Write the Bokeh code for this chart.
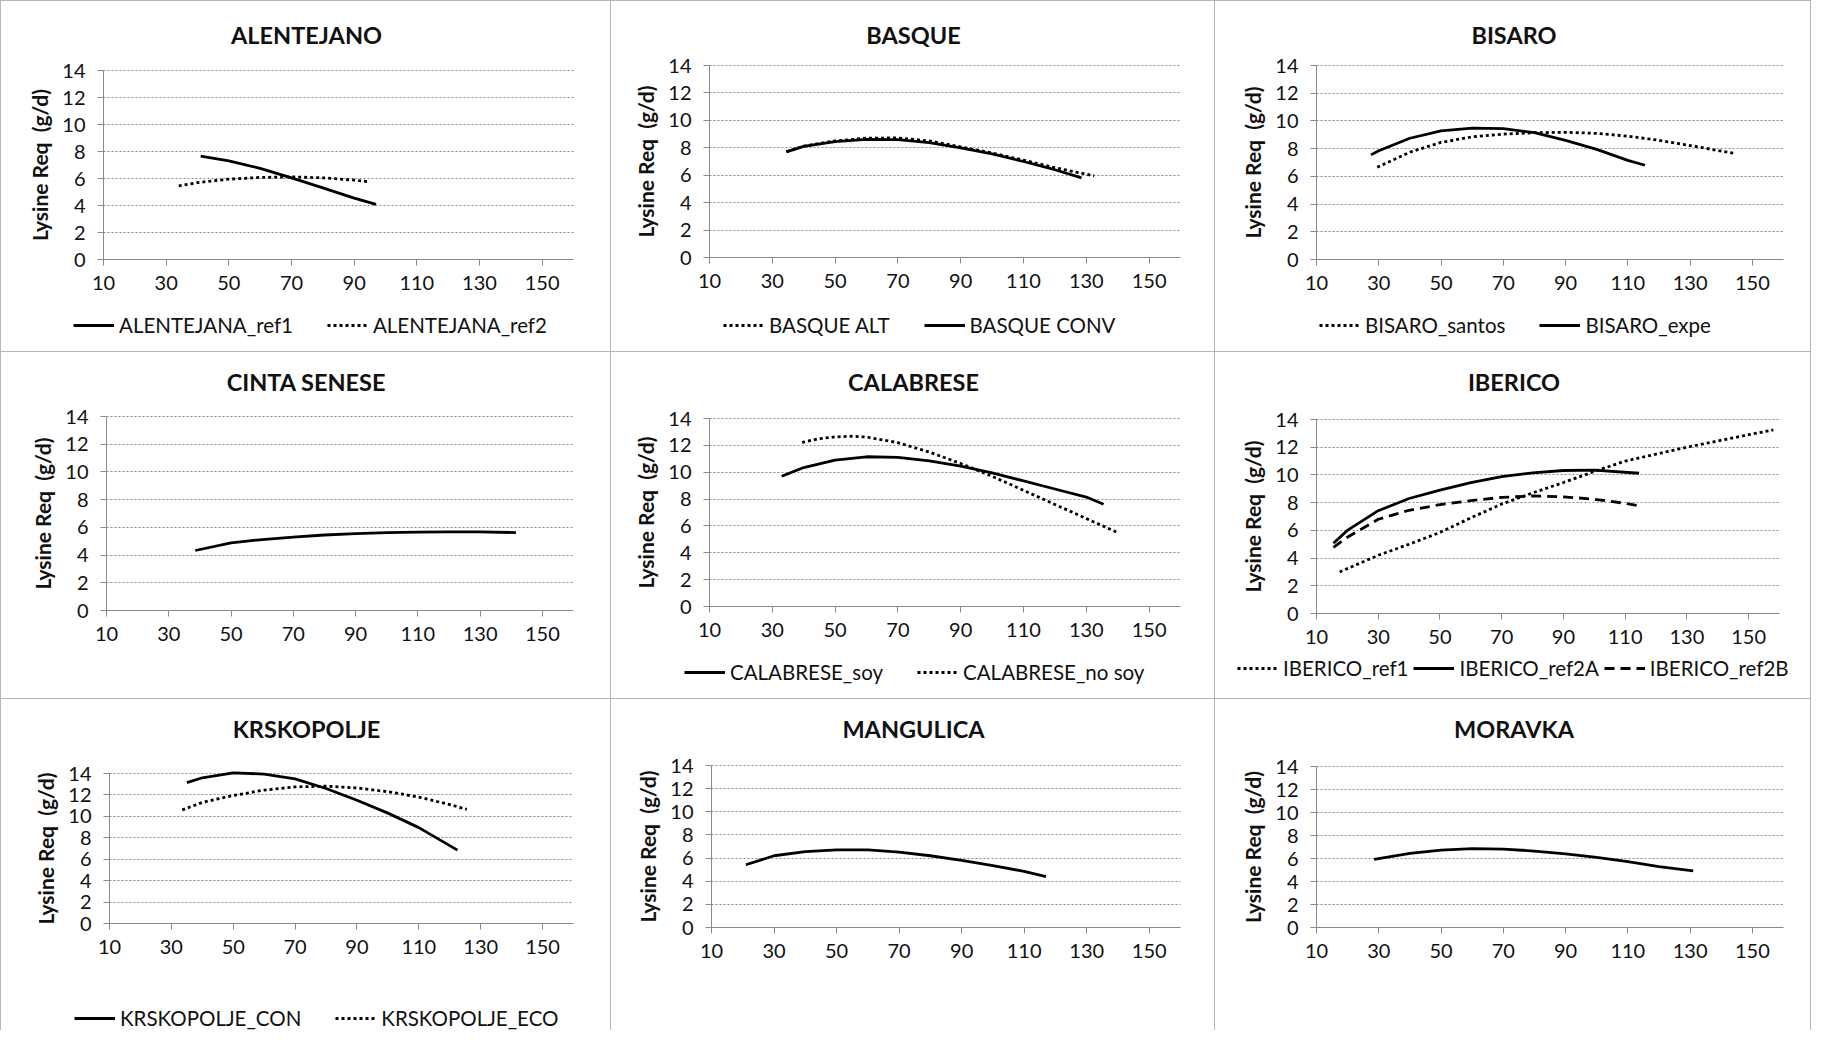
from bokeh.plotting import figure
from bokeh.models import Range1d, FixedTicker, Legend, LegendItem, Label
from bokeh.layouts import column, row
from bokeh.embed import file_html
from bokeh.resources import INLINE

# ---------------- data ----------------
X_TICKS = [10, 30, 50, 70, 90, 110, 130, 150]
Y_TICKS = [0, 2, 4, 6, 8, 10, 12, 14]
X_MIN, X_MAX = 10, 160
Y_MIN, Y_MAX = 0, 14
Y_LABEL = "Lysine Req \u00a0(g/d)"

ALENTEJANA_ref1_x = [41, 50, 60, 70, 80, 90, 97]
ALENTEJANA_ref1_y = [7.65, 7.3, 6.75, 6.05, 5.3, 4.55, 4.08]
ALENTEJANA_ref2_x = [34, 40, 50, 60, 70, 80, 90, 95]
ALENTEJANA_ref2_y = [5.45, 5.7, 5.95, 6.08, 6.12, 6.05, 5.88, 5.75]

BASQUE_ALT_x = [34.5, 40, 50, 60, 70, 80, 90, 100, 110, 120, 132.5]
BASQUE_ALT_y = [7.72, 8.12, 8.5, 8.7, 8.72, 8.5, 8.07, 7.62, 7.1, 6.55, 5.95]
BASQUE_CONV_x = [34.5, 40, 50, 60, 70, 80, 90, 100, 110, 120, 128.5]
BASQUE_CONV_y = [7.7, 8.1, 8.45, 8.62, 8.6, 8.38, 8.0, 7.55, 7.0, 6.4, 5.8]

BISARO_santos_x = [29.5, 40, 50, 60, 70, 80, 90, 100, 110, 120, 130, 144.5]
BISARO_santos_y = [6.65, 7.75, 8.45, 8.85, 9.05, 9.15, 9.18, 9.1, 8.9, 8.6, 8.22, 7.65]
BISARO_expe_x = [27.5, 30, 40, 50, 60, 70, 80, 90, 100, 110, 115.5]
BISARO_expe_y = [7.55, 7.85, 8.75, 9.28, 9.48, 9.45, 9.15, 8.6, 7.95, 7.15, 6.8]

CINTA_x = [38.5, 50, 60, 70, 80, 90, 100, 110, 120, 130, 141.5]
CINTA_y = [4.33, 4.88, 5.12, 5.3, 5.45, 5.55, 5.62, 5.66, 5.68, 5.67, 5.62]

CALABRESE_soy_x = [33, 40, 50, 60, 70, 80, 90, 100, 110, 120, 130, 135.5]
CALABRESE_soy_y = [9.7, 10.35, 10.9, 11.15, 11.1, 10.85, 10.45, 9.95, 9.35, 8.75, 8.15, 7.62]
CALABRESE_nosoy_x = [39.5, 45, 50, 55, 60, 70, 80, 90, 100, 110, 120, 130, 140]
CALABRESE_nosoy_y = [12.22, 12.5, 12.63, 12.68, 12.62, 12.2, 11.5, 10.65, 9.7, 8.65, 7.6, 6.55, 5.5]

IBERICO_ref1_x = [17.5, 30, 40, 50, 60, 70, 80, 90, 100, 110, 120, 130, 140, 150, 158]
IBERICO_ref1_y = [3.0, 4.2, 5.0, 5.85, 6.9, 7.9, 8.7, 9.45, 10.25, 11.0, 11.5, 12.0, 12.45, 12.9, 13.25]
IBERICO_ref2A_x = [15.5, 20, 30, 40, 50, 60, 70, 80, 90, 100, 114.5]
IBERICO_ref2A_y = [5.07, 6.0, 7.42, 8.3, 8.9, 9.45, 9.88, 10.15, 10.32, 10.35, 10.12]
IBERICO_ref2B_x = [15.5, 20, 30, 40, 50, 60, 70, 80, 90, 100, 110, 114.5]
IBERICO_ref2B_y = [4.78, 5.5, 6.8, 7.45, 7.85, 8.15, 8.38, 8.48, 8.42, 8.25, 7.95, 7.78]

KRSKOPOLJE_CON_x = [35, 40, 50, 60, 70, 80, 90, 100, 110, 122.5]
KRSKOPOLJE_CON_y = [13.15, 13.6, 14.05, 13.95, 13.5, 12.6, 11.5, 10.3, 8.95, 6.85]
KRSKOPOLJE_ECO_x = [33.5, 40, 50, 60, 70, 80, 90, 100, 110, 120, 125.5]
KRSKOPOLJE_ECO_y = [10.6, 11.3, 11.95, 12.45, 12.75, 12.82, 12.65, 12.3, 11.8, 11.1, 10.65]

MANGULICA_x = [21, 30, 40, 50, 60, 70, 80, 90, 100, 110, 117]
MANGULICA_y = [5.42, 6.2, 6.55, 6.7, 6.7, 6.52, 6.2, 5.8, 5.35, 4.85, 4.4]

MORAVKA_x = [28.5, 40, 50, 60, 70, 80, 90, 100, 110, 120, 131]
MORAVKA_y = [5.92, 6.45, 6.72, 6.85, 6.82, 6.65, 6.4, 6.1, 5.72, 5.3, 4.93]

PANELS = [
    ("ALENTEJANO", [("ALENTEJANA_ref1", ALENTEJANA_ref1_x, ALENTEJANA_ref1_y, "solid"),
                    ("ALENTEJANA_ref2", ALENTEJANA_ref2_x, ALENTEJANA_ref2_y, "dotted")], True),
    ("BASQUE", [("BASQUE ALT", BASQUE_ALT_x, BASQUE_ALT_y, "dotted"),
                ("BASQUE CONV", BASQUE_CONV_x, BASQUE_CONV_y, "solid")], True),
    ("BISARO", [("BISARO_santos", BISARO_santos_x, BISARO_santos_y, "dotted"),
                ("BISARO_expe", BISARO_expe_x, BISARO_expe_y, "solid")], True),
    ("CINTA SENESE", [("CINTA SENESE", CINTA_x, CINTA_y, "solid")], False),
    ("CALABRESE", [("CALABRESE_soy", CALABRESE_soy_x, CALABRESE_soy_y, "solid"),
                   ("CALABRESE_no soy", CALABRESE_nosoy_x, CALABRESE_nosoy_y, "dotted")], True),
    ("IBERICO", [("IBERICO_ref1", IBERICO_ref1_x, IBERICO_ref1_y, "dotted"),
                 ("IBERICO_ref2A", IBERICO_ref2A_x, IBERICO_ref2A_y, "solid"),
                 ("IBERICO_ref2B", IBERICO_ref2B_x, IBERICO_ref2B_y, "dashed")], True),
    ("KRSKOPOLJE", [("KRSKOPOLJE_CON", KRSKOPOLJE_CON_x, KRSKOPOLJE_CON_y, "solid"),
                    ("KRSKOPOLJE_ECO", KRSKOPOLJE_ECO_x, KRSKOPOLJE_ECO_y, "dotted")], True),
    ("MANGULICA", [("MANGULICA", MANGULICA_x, MANGULICA_y, "solid")], False),
    ("MORAVKA", [("MORAVKA", MORAVKA_x, MORAVKA_y, "solid")], False),
]

# ---------------- layout / style ----------------
FONT = "Lato"
COL_W = [610, 604, 597]
ROW_H = [351, 347, 332]
# pixel positions (canvas) of x=10 / x=160 / y=14 / y=0, title centre y,
# legend left x, legend centre y, legend spacing
LAYOUT = [
    dict(left=102, right=572, top=69, bottom=258, ty=33, lx=72, ly=325, sp=34),
    dict(left=98, right=569, top=64, bottom=256, ty=33, lx=112, ly=325, sp=34),
    dict(left=101, right=568, top=64, bottom=258, ty=33, lx=104, ly=325, sp=34),
    dict(left=105, right=572, top=64, bottom=258, ty=29, lx=0, ly=0, sp=0),
    dict(left=98, right=569, top=66, bottom=254, ty=29, lx=73, ly=321, sp=34),
    dict(left=101, right=564, top=67, bottom=261, ty=29, lx=22, ly=317, sp=5),
    dict(left=108, right=572, top=74, bottom=224, ty=29, lx=73, ly=320, sp=34),
    dict(left=100, right=569, top=66, bottom=228, ty=29, lx=0, ly=0, sp=0),
    dict(left=101, right=568, top=67, bottom=228, ty=29, lx=0, ly=0, sp=0),
]
DASH = {"solid": "solid", "dotted": "3 3", "dashed": "10 6"}
BORDER = "1px solid #b5b5b5"
AXIS_COLOR = "#8a8a8a"


def make_panel(i):
    title, series, has_legend = PANELS[i]
    lay = LAYOUT[i]
    W = COL_W[i % 3]
    H = ROW_H[i // 3]
    kx = (lay["right"] - lay["left"]) / (X_MAX - X_MIN)
    ky = (lay["bottom"] - lay["top"]) / (Y_MAX - Y_MIN)
    xr = Range1d(X_MIN - lay["left"] / kx, X_MIN + (W - lay["left"]) / kx)
    yr = Range1d(Y_MIN - (H - lay["bottom"]) / ky, Y_MIN + lay["bottom"] / ky)

    styles = {"border-left": BORDER, "border-top": BORDER}
    if i % 3 == 2:
        styles["border-right"] = BORDER
    p = figure(width=W, height=H, x_range=xr, y_range=yr, title=None,
               output_backend="svg", toolbar_location=None, min_border=0,
               outline_line_color=None, background_fill_color="white",
               border_fill_color="white", styles=styles)
    p.xaxis.fixed_location = Y_MIN
    p.yaxis.fixed_location = X_MIN
    p.xaxis.bounds = (X_MIN, X_MAX)
    p.yaxis.bounds = (Y_MIN, Y_MAX)
    p.xaxis.ticker = FixedTicker(ticks=X_TICKS)
    p.yaxis.ticker = FixedTicker(ticks=Y_TICKS)
    for ax in (p.xaxis[0], p.yaxis[0]):
        ax.axis_line_color = AXIS_COLOR
        ax.axis_line_width = 1
        ax.major_tick_line_color = AXIS_COLOR
        ax.major_tick_in = 0
        ax.major_tick_out = 6
        ax.minor_tick_line_color = None
        ax.major_label_text_font = FONT
        ax.major_label_text_font_size = "20px"
        ax.major_label_text_color = "#111111"
    p.yaxis.major_label_standoff = 12
    p.xaxis.major_label_standoff = 10
    p.yaxis.axis_label = Y_LABEL
    p.yaxis.axis_label_text_font = FONT
    p.yaxis.axis_label_text_font_size = "21px"
    p.yaxis.axis_label_text_font_style = "bold"
    p.yaxis.axis_label_text_color = "#111111"
    p.yaxis.axis_label_standoff = 7
    p.xgrid.grid_line_color = None
    p.ygrid.ticker = FixedTicker(ticks=Y_TICKS)
    p.ygrid.bounds = (Y_MIN, Y_MAX)
    p.ygrid.cross_bounds = (X_MIN, X_MAX)
    p.ygrid.grid_line_color = AXIS_COLOR
    p.ygrid.grid_line_dash = "2 2"
    p.ygrid.grid_line_width = 1

    items = []
    for label, xs, ys, style in series:
        r = p.line(xs, ys, line_color="black", line_width=2.8, line_dash=DASH[style])
        items.append(LegendItem(label=label, renderers=[r]))

    if has_legend:
        leg = Legend(items=items, orientation="horizontal",
                     location=(lay["lx"], H - lay["ly"] - 11),
                     border_line_color=None, background_fill_alpha=0,
                     padding=0, margin=0, spacing=lay["sp"], label_standoff=5,
                     glyph_width=41, glyph_height=22, label_height=22,
                     label_text_font=FONT, label_text_font_size="20.5px",
                     label_text_color="#111111", label_text_baseline="middle")
        p.add_layout(leg)

    # title: centred on the panel, positioned in data space of the full-canvas frame
    tx = X_MIN + (W / 2 - lay["left"]) / kx
    ty = Y_MIN + (lay["bottom"] - lay["ty"]) / ky
    p.add_layout(Label(x=tx, y=ty, text=title, text_align="center", text_baseline="middle",
                       text_font=FONT, text_font_size="23.5px", text_font_style="bold",
                       text_color="#111111"))
    return p


figs = [make_panel(i) for i in range(9)]
layout = column(row(*figs[0:3]), row(*figs[3:6]), row(*figs[6:9]))

open("out.html", "w").write(file_html(layout, INLINE))
